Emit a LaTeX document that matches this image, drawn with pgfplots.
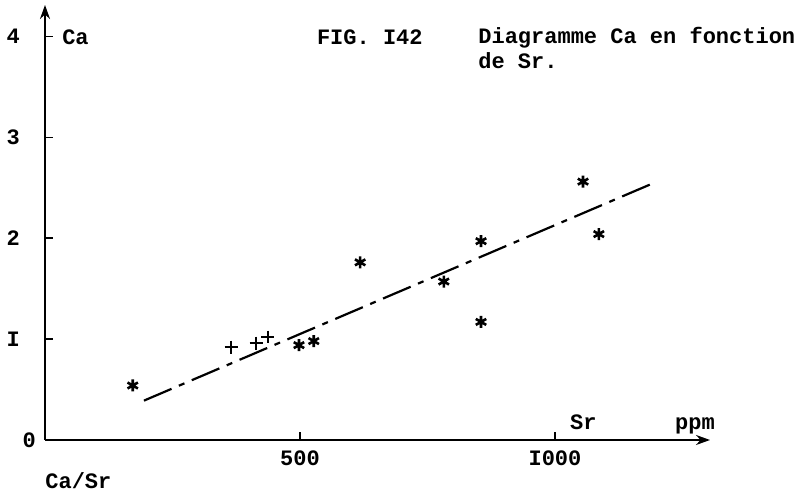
\documentclass[border=0pt]{standalone}
\usepackage{fontspec}
\setmainfont{Liberation Mono}
\usepackage{pgfplots}
\pgfplotsset{compat=1.18}
\usetikzlibrary{arrows.meta}

% Ca / Sr data
\pgfplotstableread{
x y
172 0.54
498 0.94
527 0.98
618 1.76
782 1.57
855 1.97
855 1.17
1055 2.56
1086 2.04
}\stars
\pgfplotstableread{
x y
365 0.92
414 0.96
437 1.02
}\plus

\begin{document}
\begin{tikzpicture}
\useasboundingbox (-22.5pt,-28pt) rectangle (378.5pt,220pt);
\begin{axis}[
    scale only axis,
    width=332.5pt, height=217.5pt,
    xmin=0, xmax=1304, ymin=0, ymax=4.31,
    axis lines=left,
    axis line style={line width=0.9pt, -{Stealth[length=7pt,width=5pt]}},
    clip=false,
    font=\fontsize{11}{13}\selectfont\bfseries,
    /pgf/number format/assume math mode=true,
    xtick={500,1000}, xticklabels={500,I000},
    ytick={1,2,3,4}, yticklabels={I,2,3,4},
    yticklabel style={xshift=-9pt},
    xticklabel style={yshift=-2pt},
    tick align=inside, major tick length=4pt,
    tick style={line width=0.7pt, black},
]
\addplot[only marks, mark=asterisk, mark size=3pt, line width=1.3pt] table[x=x,y=y]{\stars};
\addplot[only marks, mark=+, mark size=3.2pt, line width=1.1pt] table[x=x,y=y]{\plus};
\addplot[line width=1.1pt, dash pattern=on 15pt off 4pt on 3pt off 4pt] coordinates {(194,0.39) (1186,2.53)};

\node[anchor=east] at (axis cs:-4,0) {0};
\node[anchor=west] at (axis cs:20,3.99) {Ca};
\node at (axis cs:637,3.99) {FIG. I42};
\node[anchor=west, inner sep=0pt] at (axis cs:849,3.99) {Diagramme Ca en fonction};
\node[anchor=west, inner sep=0pt] at (axis cs:849,3.76) {de Sr.};
\node[anchor=base west, inner sep=0pt] at (axis cs:1029,0.1) {Sr};
\node[anchor=base west, inner sep=0pt] at (axis cs:1235,0.1) {ppm};
\node[anchor=base west, inner sep=0pt] at (axis cs:0,-0.48) {Ca/Sr};
\end{axis}
\end{tikzpicture}
\end{document}
